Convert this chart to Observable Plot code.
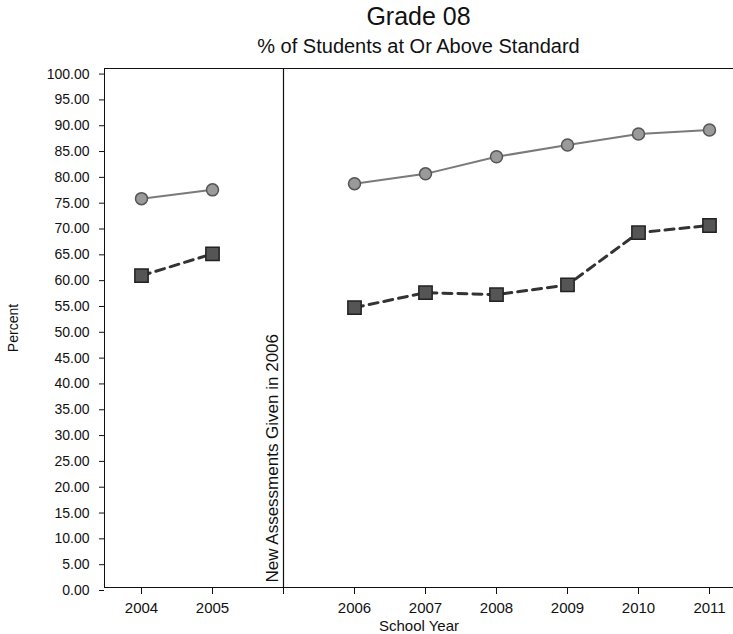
<!DOCTYPE html>
<html>
<head>
<meta charset="utf-8">
<script src="https://cdn.jsdelivr.net/npm/d3@7"></script>
<script src="https://cdn.jsdelivr.net/npm/@observablehq/plot@0.6"></script>
<style>
  html, body { margin: 0; padding: 0; background: #fff; overflow: hidden; }
  #chart { width: 733px; font-family: "Liberation Sans", Arial, sans-serif; color: #111; }
  .hdr { padding-left: 104px; width: 629px; text-align: center; }
  #title { font-family: "Liberation Sans Narrow", "Liberation Sans", Arial, sans-serif; font-size: 25px; line-height: 32px; height: 32px; }
  #subtitle { font-size: 20px; line-height: 28px; height: 28px; }
</style>
</head>
<body>
<div id="chart">
  <div id="title" class="hdr"></div>
  <div id="subtitle" class="hdr"></div>
</div>
<script>
const titleText = "Grade 08";
const subtitleText = "% of Students at Or Above Standard";
const xLabel = "School Year";
const yLabel = "Percent";
const breakLabel = "New Assessments Given in 2006";
const years = ["2004", "2005", "2006", "2007", "2008", "2009", "2010", "2011"];
const circleValues = [75.3, 77.0, 78.2, 80.1, 83.4, 85.7, 87.8, 88.6];
const squareValues = [60.4, 64.6, 54.2, 57.1, 56.7, 58.6, 68.7, 70.1];
const yTicks = [0, 5, 10, 15, 20, 25, 30, 35, 40, 45, 50, 55, 60, 65, 70, 75, 80, 85, 90, 95, 100];
const breakSlot = " ";

document.getElementById("title").textContent = titleText;
document.getElementById("subtitle").textContent = subtitleText;

const slots = [...years.slice(0, 2), breakSlot, ...years.slice(2)];
const rows = years.map((year, i) => ({
  year, a: circleValues[i], b: squareValues[i], era: +year < 2006 ? "old" : "new"
}));

const chart = Plot.plot({
  width: 733,
  height: 574,
  marginLeft: 104,
  marginRight: 0,
  marginTop: 8,
  marginBottom: 47,
  style: { fontFamily: "'Liberation Sans', Arial, sans-serif", fontSize: "14px", color: "#111", background: "white", overflow: "visible" },
  x: { type: "point", domain: slots, range: [141, 709], padding: 0 },
  y: { domain: [0, 100.5] },
  marks: [
    Plot.frame({ anchor: "top", stroke: "#111" }),
    Plot.frame({ anchor: "left", stroke: "#111" }),
    Plot.frame({ anchor: "bottom", stroke: "#111" }),
    Plot.ruleX([breakSlot], { stroke: "#111", strokeWidth: 1.2 }),
    Plot.axisY({ ticks: yTicks, tickFormat: d3.format(".2f"), tickSize: 5, tickPadding: 10, dy: 3,
      label: yLabel, labelAnchor: "center", labelOffset: 96, labelArrow: "none", fontSize: 14 }),
    Plot.axisX({ tickSize: 7, tickPadding: 8, label: xLabel, labelAnchor: "center", labelOffset: 43, labelArrow: "none", fontSize: 15 }),
    Plot.text([breakLabel], { x: () => breakSlot, y: () => 0, text: d => d, rotate: -90, textAnchor: "start", dx: -11, dy: -5, fontSize: 17 }),
    Plot.line(rows, { x: "year", y: "a", z: "era", stroke: "#7a7a7a", strokeWidth: 2 }),
    Plot.line(rows, { x: "year", y: "b", z: "era", stroke: "#333", strokeWidth: 3, strokeDasharray: "9,6" }),
    Plot.dot(rows, { x: "year", y: "a", r: 6, symbol: "circle", fill: "#9a9a9a", stroke: "#555", strokeWidth: 1.5 }),
    Plot.dot(rows, { x: "year", y: "b", r: 7.5, symbol: "square", fill: "#555", stroke: "#222", strokeWidth: 1.5 })
  ]
});
document.getElementById("chart").appendChild(chart);
</script>
</body>
</html>
